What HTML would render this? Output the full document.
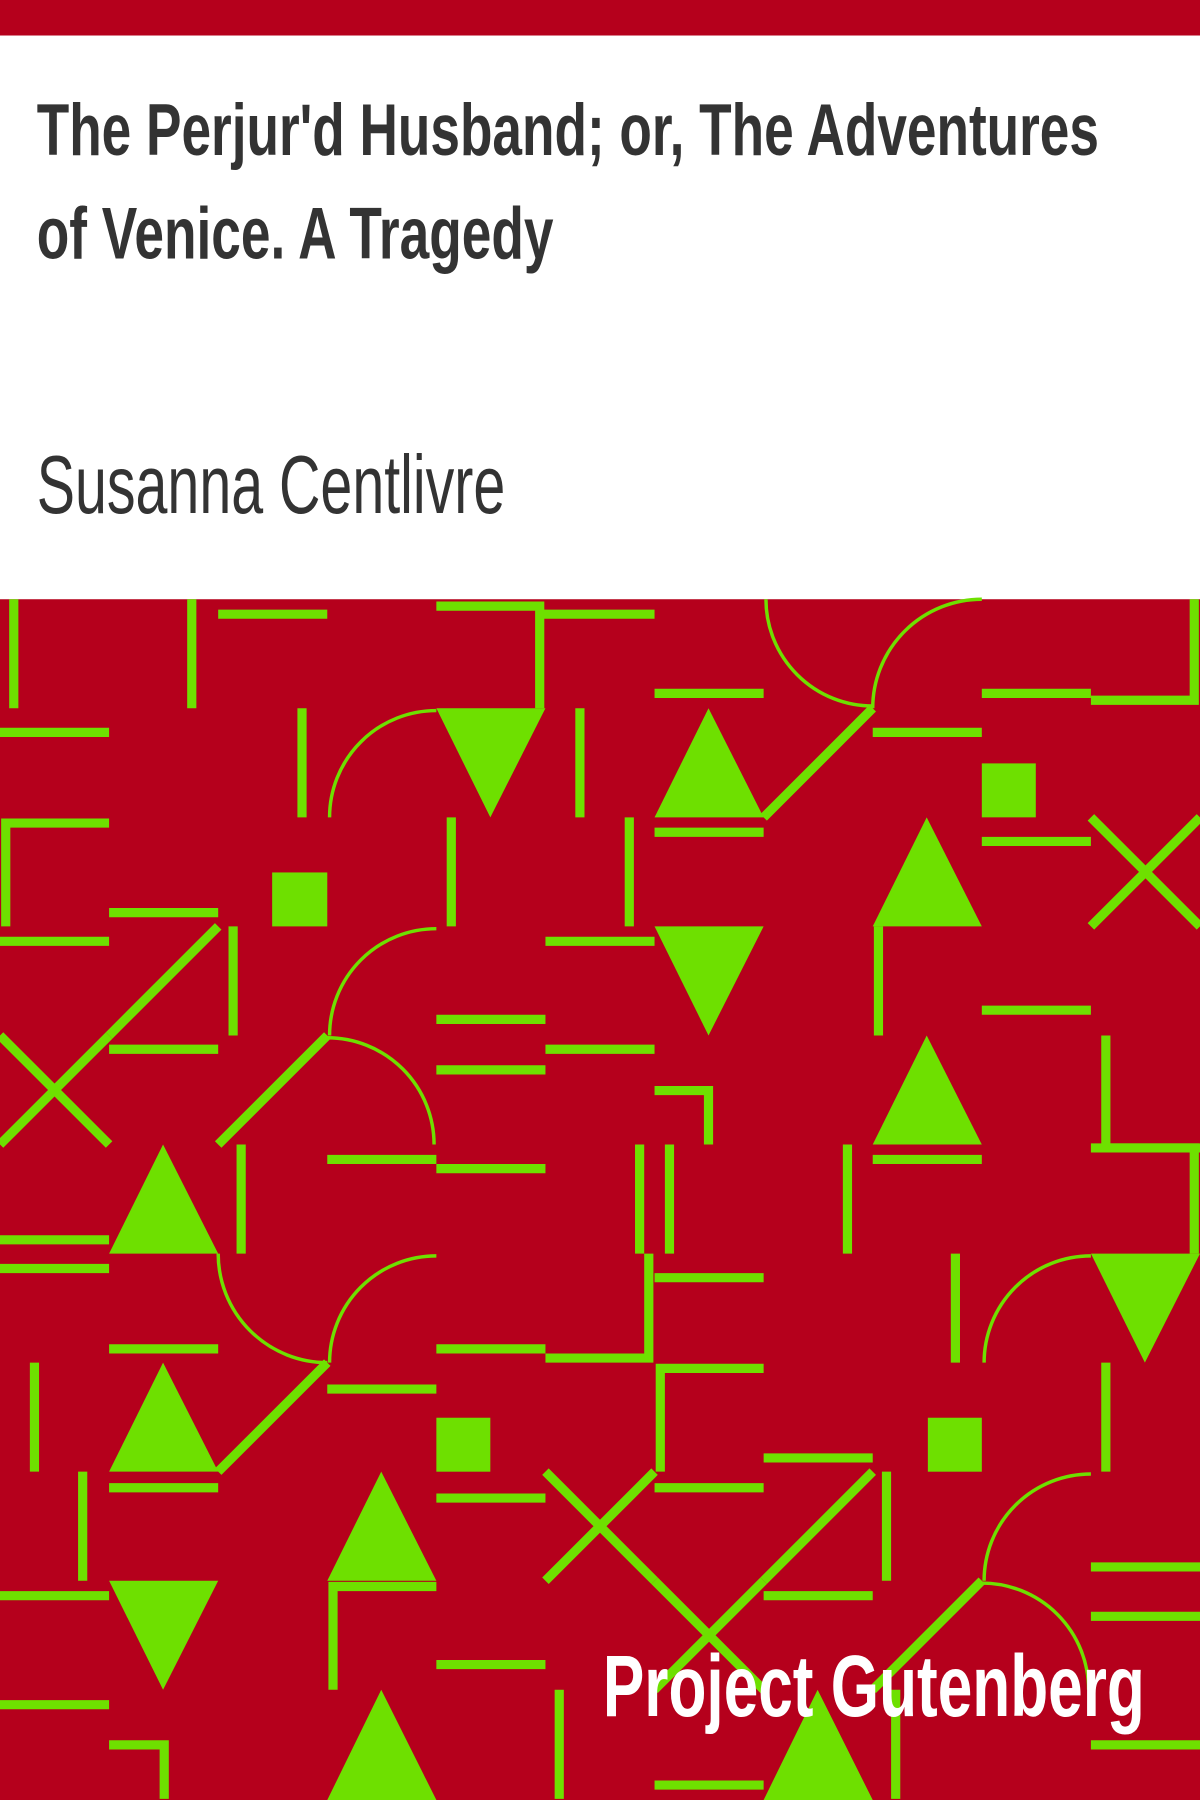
<!DOCTYPE html>
<html><head><meta charset="utf-8"><style>
html,body{margin:0;padding:0;background:#fff;}
svg{display:block;}
</style></head><body>
<svg width="1200" height="1800" viewBox="0 0 1045 1568" preserveAspectRatio="none" xmlns="http://www.w3.org/2000/svg">
<rect x="0" y="0" width="1045" height="31" fill="#b5001c"/>
<rect x="0" y="31" width="1045" height="491" fill="#fff"/>
<text x="32" y="135" font-family="Liberation Sans, sans-serif" font-weight="bold" font-size="64" fill="#333" textLength="925" lengthAdjust="spacingAndGlyphs">The Perjur'd Husband; or, The Adventures</text>
<text x="32" y="225" font-family="Liberation Sans, sans-serif" font-weight="bold" font-size="64" fill="#333" textLength="450" lengthAdjust="spacingAndGlyphs">of Venice. A Tragedy</text>
<text x="32" y="447" font-family="Liberation Sans, sans-serif" font-size="72" fill="#333" textLength="408" lengthAdjust="spacingAndGlyphs">Susanna Centlivre</text>
<g>
<rect x="0" y="522" width="1045" height="1046" fill="#b5001c"/>
<g stroke="#6ee000" stroke-width="8" fill="none">
<line x1="12" y1="522" x2="12" y2="617"/>
<line x1="167" y1="522" x2="167" y2="617"/>
<line x1="190" y1="535" x2="285" y2="535"/>
<polyline points="380,528 470,528 470,617"/>
<line x1="470" y1="535" x2="570" y2="535"/>
<line x1="570" y1="604" x2="665" y2="604"/>
<line x1="855" y1="604" x2="950" y2="604"/>
<polyline points="950,610 1040,610 1040,522"/>
<line x1="0" y1="638" x2="95" y2="638"/>
<line x1="263" y1="617" x2="263" y2="712"/>
<line x1="505" y1="617" x2="505" y2="712"/>
<line x1="665" y1="712" x2="760" y2="617"/>
<line x1="760" y1="638" x2="855" y2="638"/>
<polyline points="95,717 5,717 5,807"/>
<line x1="570" y1="725" x2="665" y2="725"/>
<line x1="393" y1="712" x2="393" y2="807"/>
<line x1="548" y1="712" x2="548" y2="807"/>
<line x1="855" y1="733" x2="950" y2="733"/>
<line x1="950" y1="712" x2="1045" y2="807"/><line x1="1045" y1="712" x2="950" y2="807"/>
<line x1="95" y1="795" x2="190" y2="795"/>
<line x1="95" y1="902" x2="190" y2="807"/>
<line x1="203" y1="807" x2="203" y2="902"/>
<line x1="0" y1="820" x2="95" y2="820"/>
<line x1="475" y1="820" x2="570" y2="820"/>
<line x1="765" y1="807" x2="765" y2="902"/>
<line x1="855" y1="880" x2="950" y2="880"/>
<line x1="380" y1="888" x2="475" y2="888"/>
<line x1="95" y1="914" x2="190" y2="914"/>
<line x1="475" y1="914" x2="570" y2="914"/>
<line x1="380" y1="932" x2="475" y2="932"/>
<line x1="0" y1="902" x2="95" y2="997"/><line x1="95" y1="902" x2="0" y2="997"/>
<line x1="190" y1="997" x2="285" y2="902"/>
<polyline points="570,950 617,950 617,997"/>
<polyline points="963,902 963,1000 1040,1000 1040,1092"/>
<line x1="950" y1="1000" x2="1045" y2="1000"/>
<line x1="210" y1="997" x2="210" y2="1092"/>
<line x1="285" y1="1010" x2="380" y2="1010"/>
<line x1="380" y1="1018" x2="475" y2="1018"/>
<line x1="760" y1="1010" x2="855" y2="1010"/>
<line x1="557" y1="997" x2="557" y2="1092"/>
<line x1="583" y1="997" x2="583" y2="1092"/>
<line x1="738" y1="997" x2="738" y2="1092"/>
<line x1="0" y1="1080" x2="95" y2="1080"/>
<line x1="0" y1="1105" x2="95" y2="1105"/>
<polyline points="565,1092 565,1183 475,1183"/>
<line x1="570" y1="1113" x2="665" y2="1113"/>
<line x1="832" y1="1092" x2="832" y2="1187"/>
<line x1="95" y1="1175" x2="190" y2="1175"/>
<line x1="380" y1="1175" x2="475" y2="1175"/>
<line x1="30" y1="1187" x2="30" y2="1282"/>
<line x1="190" y1="1282" x2="285" y2="1187"/>
<line x1="285" y1="1210" x2="380" y2="1210"/>
<polyline points="665,1192 575,1192 575,1282"/>
<line x1="963" y1="1187" x2="963" y2="1282"/>
<line x1="95" y1="1296" x2="190" y2="1296"/>
<line x1="380" y1="1305" x2="475" y2="1305"/>
<line x1="570" y1="1296" x2="665" y2="1296"/>
<line x1="665" y1="1270" x2="760" y2="1270"/>
<line x1="72" y1="1282" x2="72" y2="1377"/>
<line x1="475" y1="1282" x2="570" y2="1377"/><line x1="570" y1="1282" x2="475" y2="1377"/>
<line x1="665" y1="1377" x2="760" y2="1282"/>
<line x1="772" y1="1282" x2="772" y2="1377"/>
<line x1="950" y1="1365" x2="1045" y2="1365"/>
<line x1="0" y1="1390" x2="95" y2="1390"/>
<polyline points="380,1382 290,1382 290,1472"/>
<line x1="665" y1="1390" x2="760" y2="1390"/>
<line x1="570" y1="1377" x2="665" y2="1472"/><line x1="665" y1="1377" x2="570" y2="1472"/>
<line x1="760" y1="1472" x2="855" y2="1377"/>
<line x1="950" y1="1408" x2="1045" y2="1408"/>
<line x1="380" y1="1450" x2="475" y2="1450"/>
<line x1="0" y1="1485" x2="95" y2="1485"/>
<line x1="487" y1="1472" x2="487" y2="1567"/>
<polyline points="95,1520 143,1520 143,1567"/>
<line x1="780" y1="1472" x2="780" y2="1567"/>
<line x1="570" y1="1555" x2="665" y2="1555"/>
<line x1="950" y1="1520" x2="1045" y2="1520"/>
</g>
<g stroke="#6ee000" stroke-width="3" fill="none">
<path d="M667,522 A93,93 0 0 0 760,615"/>
<path d="M760,617 A95,95 0 0 1 855,522"/>
<path d="M287,712 A93,93 0 0 1 380,619"/>
<path d="M287,902 A93,93 0 0 1 380,809"/>
<path d="M285,904 A93,93 0 0 1 378,997"/>
<path d="M190,1092 A95,95 0 0 0 285,1187"/>
<path d="M287,1187 A93,93 0 0 1 380,1094"/>
<path d="M857,1187 A93,93 0 0 1 950,1094"/>
<path d="M857,1377 A93,93 0 0 1 950,1284"/>
<path d="M855,1379 A93,93 0 0 1 948,1472"/>
</g>
<g fill="#6ee000">
<polygon points="380,617 475,617 427,712"/>
<polygon points="570,712 665,712 617,617"/>
<rect x="855" y="665" width="47" height="47"/>
<rect x="237" y="760" width="48" height="47"/>
<polygon points="760,807 855,807 807,712"/>
<polygon points="570,807 665,807 617,902"/>
<polygon points="760,997 855,997 807,902"/>
<polygon points="95,1092 190,1092 142,997"/>
<polygon points="950,1092 1045,1092 997,1187"/>
<polygon points="95,1282 190,1282 142,1187"/>
<rect x="380" y="1235" width="47" height="47"/>
<rect x="808" y="1235" width="47" height="47"/>
<polygon points="285,1377 380,1377 332,1282"/>
<polygon points="95,1377 190,1377 142,1472"/>
<polygon points="285,1568 380,1568 332,1472"/>
<polygon points="665,1568 760,1568 712,1472"/>
</g>
</g>
<text x="525" y="1495" font-family="Liberation Sans, sans-serif" font-weight="bold" font-size="76" fill="#fff" textLength="472" lengthAdjust="spacingAndGlyphs">Project Gutenberg</text>
</svg>
</body></html>
